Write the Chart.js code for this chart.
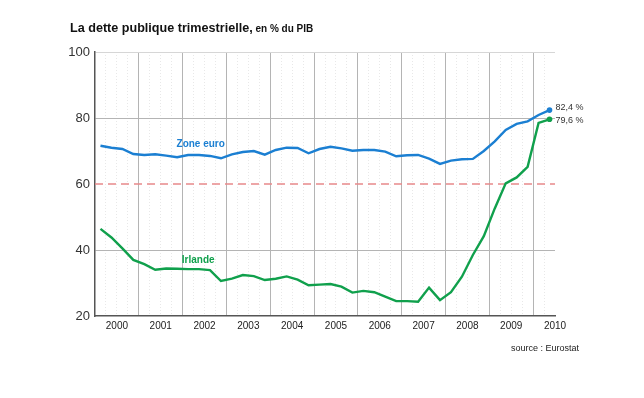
<!DOCTYPE html>
<html>
<head>
<meta charset="utf-8">
<script src="https://cdn.jsdelivr.net/npm/chart.js@4.4.0/dist/chart.umd.min.js"></script>
<style>
body { margin: 0; background: #fff; font-family: "Liberation Sans", Arial, sans-serif; }
#wrap { position: relative; width: 644px; height: 398px; }
canvas { position: absolute; left: 0; top: 0; }
#titre { position: absolute; left: 70px; top: 22px; font-weight: bold; font-size: 12.6px; line-height: 12.6px; color: #111; white-space: nowrap; }
#titre span { font-size: 10px; }
#source { position: absolute; left: 511px; top: 344px; font-size: 9px; line-height: 9px; color: #222; white-space: nowrap; }
</style>
</head>
<body>
<div id="wrap">
  <canvas id="c" width="644" height="398"></canvas>
  <div id="titre">La dette publique trimestrielle,<span> en % du PIB</span></div>
  <div id="source">source : Eurostat</div>
</div>
<script>
// annees (axe x), un point par trimestre de 2000T1 a 2010T2
const years = [2000, 2001, 2002, 2003, 2004, 2005, 2006, 2007, 2008, 2009, 2010];

const zoneEuro = [71.6, 71.0, 70.6, 69.1, 68.8, 69.0, 68.6, 68.1, 68.8, 68.8,
                  68.5, 67.8, 69.0, 69.7, 70.0, 68.9, 70.3, 71.0, 70.9, 69.3,
                  70.6, 71.3, 70.8, 70.1, 70.3, 70.3, 69.8, 68.4, 68.7, 68.8,
                  67.7, 66.1, 67.1, 67.5, 67.6, 70.0, 72.9, 76.4, 78.2, 79.0,
                  80.9, 82.4];

const irlande = [46.4, 43.8, 40.5, 37.0, 35.7, 34.0, 34.4, 34.3, 34.2, 34.2,
                 33.9, 30.6, 31.3, 32.4, 32.1, 30.9, 31.3, 32.0, 31.0, 29.3,
                 29.5, 29.7, 28.9, 27.1, 27.6, 27.2, 25.9, 24.5, 24.5, 24.3,
                 28.6, 24.8, 27.2, 31.9, 38.5, 44.2, 52.6, 60.2, 62.0, 65.2,
                 78.5, 79.6];

const seuil = 60;
const yTicks = [20, 40, 60, 80, 100];

const bleu = '#1b7fd2';
const vert = '#10a04c';
const police = '"Liberation Sans", Arial, sans-serif';

const nbTrim = 42; // largeur de l'axe en trimestres
const last = zoneEuro.length - 1;

function pts(values) {
    return values.map((v, i) => ({x: i + 0.5, y: v}));
}

function fmt(v) {
    return v.toFixed(1).replace('.', ',') + ' %';
}

const etiquettes = {
    id: 'etiquettes',
    afterDatasetsDraw(chart) {
        const {ctx} = chart;
        const x = chart.scales.x, y = chart.scales.y;
        ctx.save();
        ctx.font = 'bold 10px ' + police;
        ctx.textAlign = 'center';
        ctx.textBaseline = 'middle';
        ctx.fillStyle = bleu;
        ctx.fillText('Zone euro', x.getPixelForValue(9.65), y.getPixelForValue(72.1));
        ctx.fillStyle = vert;
        ctx.fillText('Irlande', x.getPixelForValue(9.42), y.getPixelForValue(36.8));

        ctx.font = '9px ' + police;
        ctx.textAlign = 'left';
        ctx.fillStyle = '#333';
        const px = x.getPixelForValue(last + 0.5) + 6;
        ctx.fillText(fmt(zoneEuro[last]), px, y.getPixelForValue(zoneEuro[last]) - 2.5);
        ctx.fillText(fmt(irlande[last]), px, y.getPixelForValue(irlande[last]) + 1);
        ctx.restore();
    }
};

let chart = new Chart(document.getElementById('c'), {
    type: 'line',
    data: {
        datasets: [{
            label: 'Zone euro',
            data: pts(zoneEuro),
            borderColor: bleu,
            backgroundColor: bleu,
            borderWidth: 2.4,
            pointRadius: c => c.dataIndex === last ? 2.8 : 0,
            pointBorderWidth: 0,
            tension: 0,
            order: 1
        }, {
            label: 'Irlande',
            data: pts(irlande),
            borderColor: vert,
            backgroundColor: vert,
            borderWidth: 2.4,
            pointRadius: c => c.dataIndex === last ? 2.8 : 0,
            pointBorderWidth: 0,
            tension: 0,
            order: 2
        }, {
            label: 'seuil',
            data: [{x: 0, y: seuil}, {x: nbTrim, y: seuil}],
            borderColor: '#e8898b',
            borderWidth: 1.5,
            borderDash: [8, 5],
            pointRadius: 0,
            order: 3
        }]
    },
    options: {
        responsive: false,
        animation: false,
        layout: {padding: {top: 52, right: 89, bottom: 0, left: 0}},
        plugins: {
            legend: {display: false},
            tooltip: {enabled: false}
        },
        scales: {
            xMin: {
                type: 'linear', position: 'bottom', min: 0, max: nbTrim,
                afterBuildTicks: s => {
                    const t = [];
                    for (let q = 1; q < nbTrim; q++) if (q % 4) t.push({value: q});
                    s.ticks = t;
                },
                afterFit: s => { s.height = 0; },
                ticks: {display: false},
                grid: {color: '#e8e8e8', lineWidth: 1, drawTicks: false},
                border: {display: false, dash: [1, 2]}
            },
            x: {
                type: 'linear', position: 'bottom', min: 0, max: nbTrim,
                afterBuildTicks: s => {
                    s.ticks = years.slice(1).map((yr, i) => ({value: 4 * (i + 1)}));
                },
                afterFit: s => { s.height = 0; },
                ticks: {display: false},
                grid: {color: '#b4b4b4', lineWidth: 1, drawTicks: false},
                border: {display: true, color: '#555', width: 1.5}
            },
            xLab: {
                type: 'linear', position: 'bottom', min: 0, max: nbTrim,
                afterBuildTicks: s => {
                    s.ticks = years.map((yr, i) => ({value: 2 + 4 * i}));
                },
                afterFit: s => { s.height = 82; },
                grid: {display: false, drawTicks: false},
                border: {display: false},
                ticks: {
                    autoSkip: false, maxRotation: 0, padding: 4,
                    color: '#222', font: {family: police, size: 10},
                    callback: (v, i) => years[i]
                }
            },
            y: {
                min: 20, max: 100,
                afterBuildTicks: s => { s.ticks = yTicks.map(v => ({value: v})); },
                afterFit: s => { s.width = 95; },
                grid: {
                    drawTicks: false,
                    color: c => {
                        const v = c.tick ? c.tick.value : 0;
                        if (v === 40 || v === 80) return '#b4b4b4';
                        if (v === 100) return '#d6d6d6';
                        return 'rgba(0,0,0,0)';
                    }
                },
                border: {display: true, color: '#555', width: 1.5},
                ticks: {padding: 5, color: '#333', font: {family: police, size: 13}}
            }
        }
    },
    plugins: [etiquettes]
});
</script>
</body>
</html>
